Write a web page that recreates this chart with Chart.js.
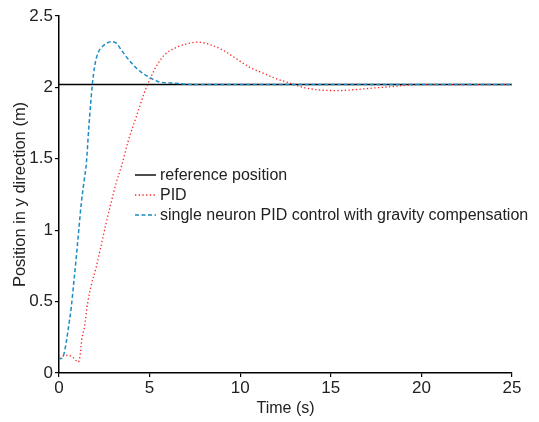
<!DOCTYPE html>
<html>
<head>
<meta charset="utf-8">
<script src="https://cdn.jsdelivr.net/npm/chart.js@4.4.1/dist/chart.umd.min.js"></script>
<style>
  body { margin: 0; background: #fff; }
  #wrap { width: 539px; height: 422px; }
</style>
</head>
<body>
<div id="wrap"><canvas id="posChart" width="539" height="422"></canvas></div>
<script>
// time (s) and position (m)
var refT = [0, 25];
var refY = [2.02, 2.02];

var pidT = [0, 0.5, 0.77, 1.07, 1.18, 1.25, 1.4, 1.58, 1.77, 2.04, 2.32, 2.6, 2.87, 3.15, 3.45, 3.81, 4.28, 4.73, 5.1, 5.38, 5.84, 6.49, 7.22, 7.68, 8.32, 9.06, 9.8, 10.53, 11.27, 12.01, 12.75, 13.2, 13.65, 14.6, 15.5, 16.4, 17.3, 18.3, 19.2, 20, 25];
var pidY = [0.11, 0.125, 0.108, 0.077, 0.137, 0.23, 0.32, 0.49, 0.61, 0.735, 0.89, 1.05, 1.19, 1.33, 1.45, 1.62, 1.8, 1.97, 2.08, 2.15, 2.23, 2.28, 2.31, 2.317, 2.3, 2.26, 2.2, 2.14, 2.1, 2.06, 2.03, 2.01, 1.995, 1.98, 1.978, 1.985, 1.995, 2.005, 2.015, 2.02, 2.02];

var snT = [0, 0.09, 0.28, 0.5, 0.68, 0.83, 0.96, 1.09, 1.23, 1.38, 1.51, 1.64, 1.75, 1.84, 1.97, 2.15, 2.43, 2.89, 3.16, 3.45, 4.0, 4.5, 5.0, 5.5, 6.3, 7.5, 25];
var snY = [0.11, 0.1, 0.137, 0.3, 0.465, 0.65, 0.82, 1.0, 1.19, 1.34, 1.47, 1.71, 1.89, 2.02, 2.15, 2.24, 2.29, 2.32, 2.31, 2.26, 2.17, 2.11, 2.07, 2.04, 2.03, 2.02, 2.02];

var labels = ["reference position", "PID", "single neuron PID control with gravity compensation"];

function pairs(t, y) {
  return t.map(function(v, i) { return { x: v, y: y[i] }; });
}

var FONT = "'Liberation Sans', Arial, sans-serif";
var TXT = "#222";

// legend drawn inside the plot, like the original
var innerLegend = {
  id: 'innerLegend',
  afterDraw: function(chart) {
    var ctx = chart.ctx;
    ctx.save();
    ctx.font = "16px " + FONT;
    ctx.textBaseline = "middle";
    chart.data.datasets.forEach(function(ds, i) {
      var y = 175 + i * 20;
      ctx.beginPath();
      ctx.setLineDash(ds.borderDash || []);
      ctx.strokeStyle = ds.borderColor;
      ctx.lineWidth = ds.borderWidth;
      ctx.moveTo(135, y);
      ctx.lineTo(156, y);
      ctx.stroke();
      ctx.setLineDash([]);
      ctx.fillStyle = TXT;
      ctx.fillText(ds.label, 160, y + 1);
    });
    ctx.restore();
  }
};

var ctx = document.getElementById("posChart");
var chart = new Chart(ctx, {
  type: 'line',
  data: {
    datasets: [{
      label: labels[0],
      data: pairs(refT, refY),
      borderColor: "#000",
      borderWidth: 1.4,
      order: 3
    }, {
      label: labels[1],
      data: pairs(pidT, pidY),
      borderColor: "#ff1f1f",
      borderWidth: 1.3,
      borderDash: [1.3, 2.4],
      cubicInterpolationMode: 'monotone',
      order: 2
    }, {
      label: labels[2],
      data: pairs(snT, snY),
      borderColor: "#1b8cc4",
      borderWidth: 1.5,
      borderDash: [4, 2.5],
      cubicInterpolationMode: 'monotone',
      order: 1
    }]
  },
  options: {
    responsive: false,
    animation: false,
    events: [],
    elements: { point: { radius: 0 } },
    layout: { padding: { left: 0, right: 27, top: 16, bottom: 0 } },
    plugins: {
      legend: { display: false },
      tooltip: { enabled: false }
    },
    scales: {
      x: {
        type: 'linear',
        min: 0,
        max: 25,
        afterFit: function(s) { s.height = 49; },
        ticks: { stepSize: 5, color: TXT, padding: 1, maxRotation: 0, font: { family: FONT, size: 17 } },
        grid: { drawOnChartArea: false, drawTicks: true, tickLength: 4, color: "#000", lineWidth: 1.2 },
        border: { display: true, color: "#000", width: 1.5 },
        title: { display: true, text: "Time (s)", color: TXT, font: { family: FONT, size: 16 }, padding: { top: 0, bottom: 4 } }
      },
      y: {
        min: 0,
        max: 2.5,
        afterFit: function(s) { s.width = 59; },
        ticks: {
          stepSize: 0.5,
          color: TXT,
          padding: 2,
          font: { family: FONT, size: 17 },
          callback: function(v) { return String(v); }
        },
        grid: { drawOnChartArea: false, drawTicks: true, tickLength: 4, color: "#000", lineWidth: 1.2 },
        border: { display: true, color: "#000", width: 1.5 },
        title: { display: true, text: "Position in y direction (m)", color: TXT, font: { family: FONT, size: 16.5 }, padding: { top: 11, bottom: 0 } }
      }
    }
  },
  plugins: [innerLegend]
});
</script>
</body>
</html>
